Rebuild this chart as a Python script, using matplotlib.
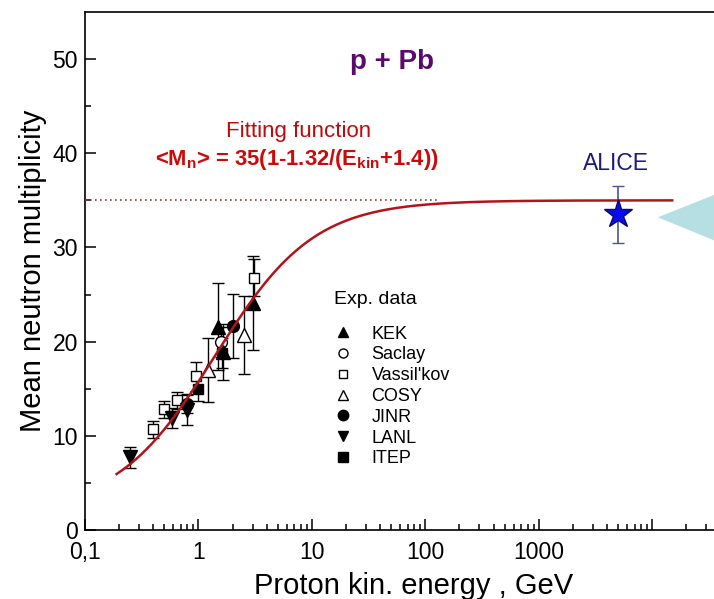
import numpy as np
import matplotlib
matplotlib.use("Agg")
from matplotlib import pyplot as plt
from matplotlib.lines import Line2D

plt.rcParams["font.family"] = ["Liberation Sans", "DejaVu Sans"]
plt.rcParams["mathtext.fontset"] = "custom"
plt.rcParams["mathtext.rm"] = "Liberation Sans"
plt.rcParams["mathtext.bf"] = "Liberation Sans:bold"

# experimental data: energy (GeV), multiplicity, error
kek_e = [1.5, 1.65, 3.0]
kek_m = [21.6, 18.9, 24.1]
kek_err = [4.6, 3.0, 5.0]

saclay_e = [1.57]
saclay_m = [20.0]
saclay_err = [1.6]

vass_e = [0.40, 0.50, 0.65, 0.95, 3.1]
vass_m = [10.7, 12.8, 13.8, 16.3, 26.8]
vass_err = [0.9, 0.9, 0.9, 1.5, 2.0]

cosy_e = [1.22, 2.5]
cosy_m = [17.0, 20.7]
cosy_err = [3.4, 4.1]

jinr_e = [0.8, 2.0]
jinr_m = [13.4, 21.7]
jinr_err = [1.0, 3.4]

lanl_e = [0.25, 0.59, 0.8]
lanl_m = [7.7, 11.9, 12.7]
lanl_err = [1.1, 1.1, 1.6]

itep_e = [1.0, 1.6]
itep_m = [15.0, 18.8]
itep_err = [1.3, 1.6]

alice_e = [5000]
alice_m = [33.5]
alice_err = [3.0]

# fit: <Mn> = 35(1-1.32/(Ekin+1.4))
fit_emin, fit_emax = 0.19, 15000
plateau = 35
dotted_end = 130

# light-blue arrow head at the right edge
arrow_x = [11200, 63000, 63000]
arrow_y = [33.2, 36.8, 29.5]

xticks = [0.1, 1, 10, 100, 1000, 10000]
xticklabels = ["0,1", "1", "10", "100", "1000", ""]

fig = plt.figure(figsize=(7.14, 5.99), dpi=100)
ax = fig.add_axes([85 / 714, 69 / 599, (743 - 85) / 714, 518 / 599])

ax.fill(arrow_x, arrow_y, color="#b5dfe3", lw=0, zorder=1)

e = np.logspace(np.log10(fit_emin), np.log10(fit_emax), 500)
ax.plot(e, plateau * (1 - 1.32 / (e + 1.4)), color="#b3141b", lw=1.8, zorder=5)
ax.plot([0.1, dotted_end], [plateau, plateau], ls=(0, (1, 2)), color="#8b3a3a", lw=1.2, zorder=4)

common = dict(color="black", ecolor="black", elinewidth=1.0, capsize=4, capthick=1.0, ls="none", zorder=3)
ax.errorbar(vass_e, vass_m, yerr=vass_err, marker="s", ms=7.5, mfc="white", mec="black", **common)
ax.errorbar(cosy_e, cosy_m, yerr=cosy_err, marker="^", ms=9.5, mfc="white", mec="black", **common)
ax.errorbar(saclay_e, saclay_m, yerr=saclay_err, marker="o", ms=8.5, mfc="white", mec="black", **common)
ax.errorbar(kek_e, kek_m, yerr=kek_err, marker="^", ms=9.5, mfc="black", **common)
ax.errorbar(jinr_e, jinr_m, yerr=jinr_err, marker="o", ms=8.5, mfc="black", **common)
ax.errorbar(lanl_e, lanl_m, yerr=lanl_err, marker="v", ms=9.5, mfc="black", **common)
ax.errorbar(itep_e, itep_m, yerr=itep_err, marker="s", ms=7.5, mfc="black", **common)

ax.errorbar(alice_e, alice_m, yerr=alice_err, marker="*", ms=21, mfc="#0a0aee", mec="#0a0a70",
            mew=1.0, ecolor="#4a5590", elinewidth=1.2, capsize=4, capthick=1.2, ls="none", zorder=6)

ax.set_xscale("log")
ax.set_xlim(0.1, 10 ** 4.8)
ax.set_ylim(0, 55)
ax.set_xticks(xticks)
ax.set_xticklabels(xticklabels)
ax.set_yticks([0, 10, 20, 30, 40, 50])
ax.set_yticks([5, 15, 25, 35, 45], minor=True)
ax.tick_params(which="both", direction="in", top=False, right=False, width=1.1, labelsize=16.5)
ax.tick_params(which="major", length=8)
ax.tick_params(which="minor", length=4)
ax.tick_params(axis="x", pad=8)
ax.tick_params(axis="y", pad=5)
for sp in ax.spines.values():
    sp.set_linewidth(1.2)

ax.set_xlabel("Proton kin. energy , GeV", fontsize=21, labelpad=6)
ax.set_ylabel("Mean neutron multiplicity", fontsize=21, labelpad=4)

ax.text(392 / 714, 537 / 599, "p + Pb", transform=fig.transFigure, ha="center", va="center",
        fontsize=20, fontweight="bold", color="#5a0a6e")
ax.text(299 / 714, 467 / 599, "Fitting function", transform=fig.transFigure, ha="center", va="center",
        fontsize=16, color="#c00a0a")
ax.text(297 / 714, 440 / 599, r"<M$_\mathbf{n}$> = 35(1-1.32/(E$_\mathbf{kin}$+1.4))", transform=fig.transFigure,
        ha="center", va="center", fontsize=15.8, fontweight="bold", color="#cc0a0a")
ax.text(616 / 714, 435 / 599, "ALICE", transform=fig.transFigure, ha="center", va="center",
        fontsize=16.5, color="#1a1a80")

ax.text(334 / 714, 299 / 599, "Exp. data", transform=fig.transFigure, ha="left", va="center", fontsize=14)

handles = [
    Line2D([], [], ls="none", marker="^", ms=7.5, mfc="black", mec="black"),
    Line2D([], [], ls="none", marker="o", ms=6.5, mfc="white", mec="black"),
    Line2D([], [], ls="none", marker="s", ms=6, mfc="white", mec="black"),
    Line2D([], [], ls="none", marker="^", ms=7.5, mfc="white", mec="black"),
    Line2D([], [], ls="none", marker="o", ms=7.5, mfc="black", mec="black"),
    Line2D([], [], ls="none", marker="v", ms=7.5, mfc="black", mec="black"),
    Line2D([], [], ls="none", marker="s", ms=6.5, mfc="black", mec="black"),
]
labels = ["KEK", "Saclay", "Vassil'kov", "COSY", "JINR", "LANL", "ITEP"]
leg = ax.legend(handles, labels, loc="upper left", bbox_to_anchor=(0.364, 0.412),
                frameon=False, fontsize=13, handlelength=1.0, handletextpad=1.1,
                labelspacing=0.21, borderpad=0)

fig.savefig("out.png", dpi=100)
